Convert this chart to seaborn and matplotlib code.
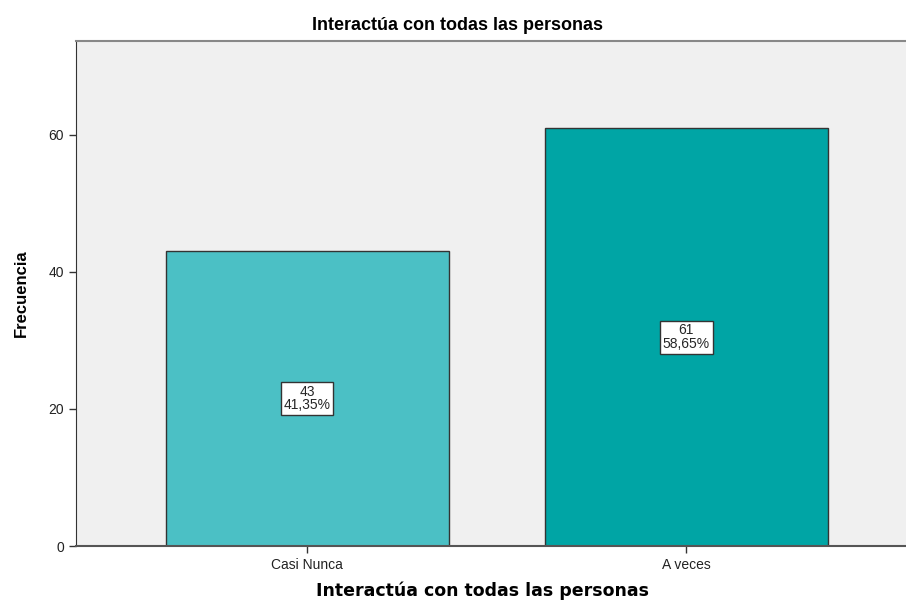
import pandas as pd
import matplotlib
matplotlib.use("Agg")
import matplotlib.pyplot as plt
import seaborn as sns

categories = ["Casi Nunca", "A veces"]
counts = [43, 61]
percents = ["41,35%", "58,65%"]
bar_colors = ["#4BC0C5", "#00A5A5"]

sns.set_style("white")
plt.rcParams["font.family"] = ["Liberation Sans", "DejaVu Sans"]

df = pd.DataFrame({"cat": categories, "n": counts})

fig = plt.figure(figsize=(9.06, 6.03), dpi=100)
ax = fig.add_axes([76 / 906, 1 - 546 / 603, 1 - 76 / 906, (546 - 41) / 603])
ax.set_facecolor("#F0F0F0")

sns.barplot(data=df, x="cat", y="n", hue="cat", palette=bar_colors, saturation=1,
            width=0.747, edgecolor="#333333", linewidth=1.0, legend=False, ax=ax)

# value boxes in the middle of each bar
for i, (n, p) in enumerate(zip(counts, percents)):
    ax.text(i, n / 2, f"{n}\n{p}", ha="center", va="center", fontsize=10,
            linespacing=0.95,
            bbox=dict(boxstyle="square,pad=0.2", fc="white", ec="#333333", lw=1.0))

ax.set_xlim(-0.61, 1.58)
ax.set_ylim(0, 73.7)
ax.set_yticks([0, 20, 40, 60])
ax.tick_params(axis="both", length=5, width=1, color="#333333", labelsize=10,
               labelcolor="#222222", bottom=True, left=True)

ax.spines["right"].set_visible(False)
ax.spines["left"].set_color("#333333")
ax.spines["bottom"].set_color("#555555")
ax.spines["top"].set_color("#888888")
ax.spines["top"].set_linewidth(1.5)
ax.spines["bottom"].set_linewidth(1.5)

ax.set_title("Interactúa con todas las personas", fontsize=13, fontweight="bold",
             pad=8, x=(458 - 76) / 830, color="black")
ax.set_xlabel("Interactúa con todas las personas", fontsize=12.5, fontweight="bold",
              family=["DejaVu Sans"], labelpad=7, x=(483 - 76) / 830, color="black")
ax.set_ylabel("Frecuencia", fontsize=12, fontweight="bold", labelpad=14, color="black")

fig.savefig("out.png", dpi=100)
